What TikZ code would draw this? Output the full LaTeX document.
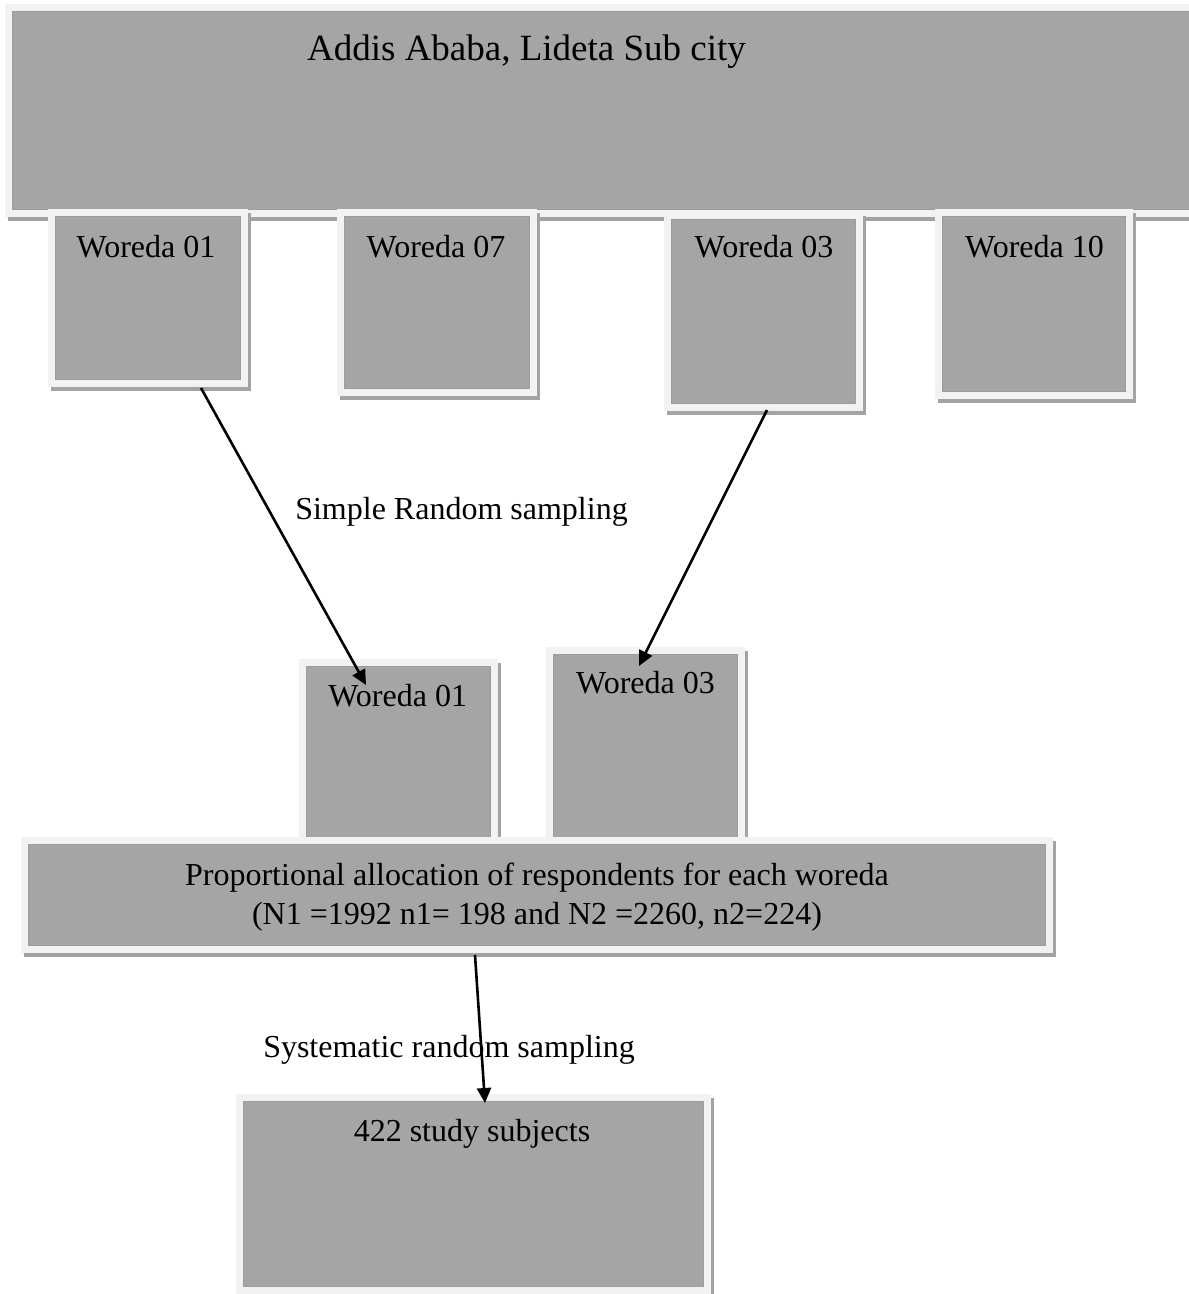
\documentclass[tikz,border=0pt]{standalone}
\usepackage{fontspec}
\setmainfont{Liberation Serif}
\usetikzlibrary{arrows.meta}
\definecolor{outerc}{HTML}{F2F2F2}
\definecolor{fillc}{HTML}{A5A5A5}
\definecolor{edgec}{HTML}{9C9C9C}
\definecolor{shadc}{HTML}{A3A3A3}
\newcommand{\grbox}[5]{%
  \fill[shadc] (#2+3,#3+4) rectangle (#4+3,#5+4);
  \fill[outerc] (#2,#3) rectangle (#4,#5);
  \draw[edgec, line width=0.8pt, fill=fillc] (#2+7.5,#3+7.5) rectangle (#4-7.5,#5-7.5);
  \node[inner sep=0pt, outer sep=0pt, minimum width={(#4-#2)*1pt}, minimum height={(#5-#3)*1pt}] (#1) at ({(#2+#4)/2},{(#3+#5)/2}) {};
}
\tikzset{
  lbl/.style={font=\fontsize{32}{39}\selectfont, inner sep=0pt, anchor=base, align=center},
  titlelbl/.style={font=\fontsize{37}{44}\selectfont, inner sep=0pt, anchor=base},
  arr/.style={line width=2.6pt, -{Triangle[length=15pt,width=14pt]}}
}
\begin{document}
\begin{tikzpicture}[x=1pt,y=-1pt]
\useasboundingbox (0,0) rectangle (1189,1294);
\clip (0,0) rectangle (1189,1294);
% top box
\grbox{city}{5}{4}{1200}{217}
% woredas
\grbox{wa}{48}{209}{248}{387}
\grbox{wb}{337}{209}{537}{396}
\grbox{wc}{664}{212}{863}{411}
\grbox{wd}{935}{209}{1133}{399}
% selected woredas
\grbox{sa}{299}{659}{498}{845}
\grbox{sb}{546}{647}{745}{845}
% allocation
\grbox{alloc}{21}{837}{1053}{953}
% study subjects
\grbox{study}{236}{1094}{711}{1294}
% texts
\node[titlelbl] (tcity) at (526.5,60) {Addis Ababa, Lideta Sub city};
\node[lbl] (twa) at (146,257) {Woreda 01};
\node[lbl] (twb) at (436,257) {Woreda 07};
\node[lbl] (twc) at (764,257) {Woreda 03};
\node[lbl] (twd) at (1034.5,257) {Woreda 10};
\node[lbl] (tsa) at (397.7,706) {Woreda 01};
\node[lbl] (tsb) at (645.5,693) {Woreda 03};
\node[lbl] (talloc) at (537,924) {Proportional allocation of respondents for each woreda\\(N1 =1992 n1= 198 and N2 =2260, n2=224)};
\node[lbl] (tstudy) at (472,1141) {422 study subjects};
\node[lbl] (tsrs) at (461.5,519) {Simple Random sampling};
\node[lbl] (tsys) at (449,1057) {Systematic random sampling};
% connectors
\coordinate (a1s) at (201,388);
\coordinate (a1e) at (366,685);
\coordinate (a2s) at (767,410);
\coordinate (a2e) at (639,666);
\coordinate (a3s) at (475,955);
\coordinate (a3e) at (485,1103);
\draw[arr] (a1s) -- (a1e);
\draw[arr] (a2s) -- (a2e);
\draw[arr] (a3s) -- (a3e);
\end{tikzpicture}
\end{document}
